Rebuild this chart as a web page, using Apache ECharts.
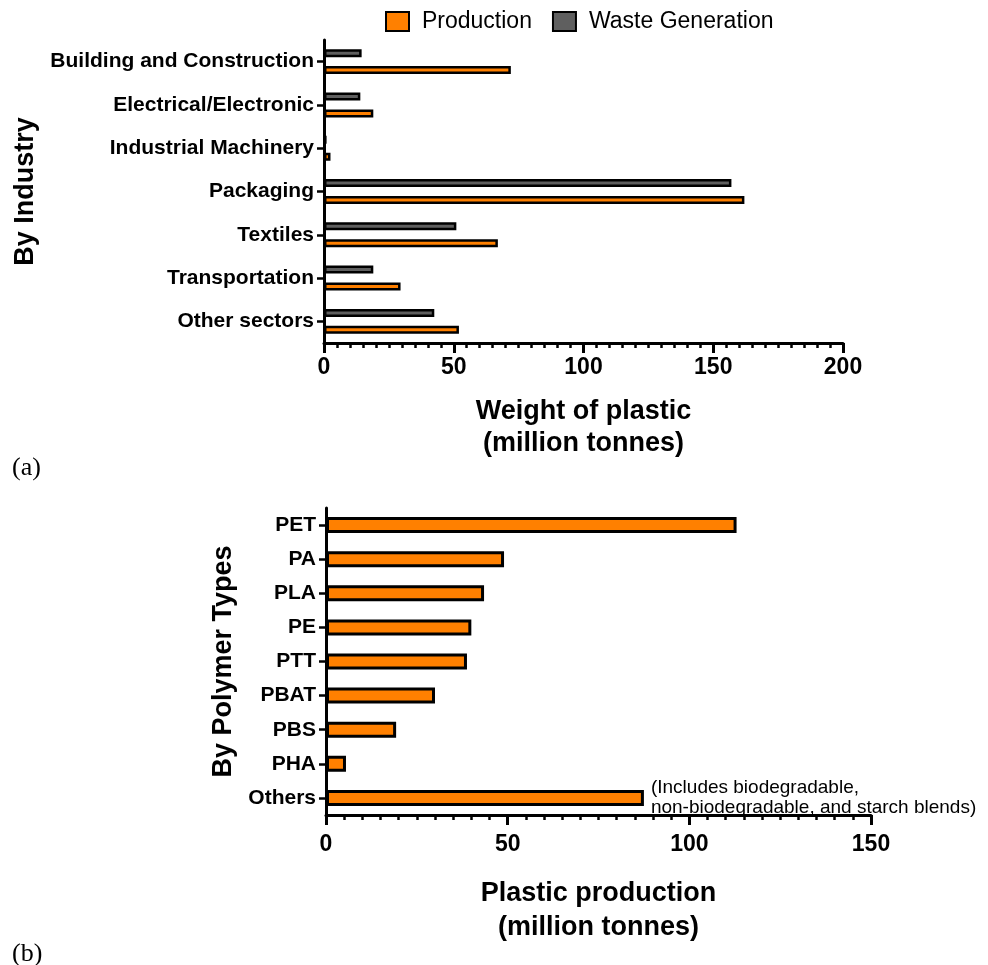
<!DOCTYPE html>
<html>
<head>
<meta charset="utf-8">
<script src="https://cdn.jsdelivr.net/npm/echarts@6/dist/echarts.min.js"></script>
<style>
  html, body { margin: 0; padding: 0; background: #fff; }
  #chart { width: 988px; height: 965px; }
</style>
</head>
<body>
<div id="chart"></div>
<script>
// (a) plastic by industry sector, million tonnes
const industries = [
  'Building and Construction',
  'Electrical/Electronic',
  'Industrial Machinery',
  'Packaging',
  'Textiles',
  'Transportation',
  'Other sectors'
];
const production = [72, 19, 2.5, 162, 67, 29.5, 52];
const wasteGeneration = [14.5, 14, 1, 157, 51, 19, 42.5];

// (b) plastic production by polymer type, million tonnes
const polymers = ['PET', 'PA', 'PLA', 'PE', 'PTT', 'PBAT', 'PBS', 'PHA', 'Others'];
const polymerProduction = [113, 49, 43.5, 40, 38.8, 30, 19.3, 5.5, 87.5];
const othersNote = '(Includes biodegradable,\nnon-biodegradable, and starch blends)';

const ORANGE = '#ff8000';
const GREY = '#5f5f5f';
const FONT = '"Liberation Sans", Arial, Helvetica, sans-serif';
const SERIF = '"Liberation Serif", "Times New Roman", serif';

const chart = echarts.init(document.getElementById('chart'), null, { renderer: 'canvas' });

const valueAxisCommon = {
  type: 'value',
  min: 0,
  interval: 50,
  splitLine: { show: false },
  axisLine: { show: true, lineStyle: { color: '#000', width: 3 } },
  axisTick: { show: true, length: 10, lineStyle: { color: '#000', width: 3 } },
  minorTick: { show: true, splitNumber: 10, length: 5, lineStyle: { color: '#000', width: 2.5 } },
  axisLabel: { color: '#000', fontFamily: FONT, fontWeight: 'bold', fontSize: 23 },
  nameLocation: 'middle',
  nameTextStyle: { color: '#000', fontFamily: FONT, fontWeight: 'bold', fontSize: 27, lineHeight: 32 }
};

const catAxisCommon = {
  type: 'category',
  inverse: true,
  axisLine: { show: true, lineStyle: { color: '#000', width: 3 } },
  axisTick: { show: true, alignWithLabel: true, length: 7, lineStyle: { color: '#000', width: 2.5 } },
  axisLabel: { color: '#000', fontFamily: FONT, fontWeight: 'bold', fontSize: 21, margin: 10 },
  nameLocation: 'middle',
  nameRotate: 90,
  nameTextStyle: { color: '#000', fontFamily: FONT, fontWeight: 'bold', fontSize: 27 }
};

const option = {
  animation: false,
  backgroundColor: '#fff',
  legend: {
    data: ['Production', 'Waste Generation'],
    left: 385,
    top: 10,
    padding: 0,
    itemWidth: 23,
    itemHeight: 19,
    itemGap: 20,
    icon: 'rect',
    textStyle: { color: '#000', fontFamily: FONT, fontSize: 23, padding: [0, 0, 0, 8] }
  },
  grid: [
    { left: 324, top: 40, width: 519, height: 303 },
    { left: 326, top: 508, width: 545, height: 307 }
  ],
  xAxis: [
    Object.assign({}, valueAxisCommon, {
      gridIndex: 0, max: 200,
      name: 'Weight of plastic\n(million tonnes)',
      nameGap: 53,
      axisLabel: Object.assign({}, valueAxisCommon.axisLabel, { margin: 13 })
    }),
    Object.assign({}, valueAxisCommon, {
      gridIndex: 1, max: 150,
      name: 'Plastic production\n(million tonnes)',
      nameGap: 62,
      nameTextStyle: Object.assign({}, valueAxisCommon.nameTextStyle, { lineHeight: 34 }),
      axisLabel: Object.assign({}, valueAxisCommon.axisLabel, { margin: 18 })
    })
  ],
  yAxis: [
    Object.assign({}, catAxisCommon, {
      gridIndex: 0, data: industries,
      name: 'By Industry', nameGap: 282
    }),
    Object.assign({}, catAxisCommon, {
      gridIndex: 1, data: polymers,
      name: 'By Polymer Types', nameGap: 89
    })
  ],
  series: [
    {
      name: 'Waste Generation',
      type: 'bar',
      xAxisIndex: 0, yAxisIndex: 0,
      data: wasteGeneration,
      barWidth: 8,
      barGap: '112%',
      itemStyle: { color: GREY, borderColor: '#000', borderWidth: 2.5 }
    },
    {
      name: 'Production',
      type: 'bar',
      xAxisIndex: 0, yAxisIndex: 0,
      data: production,
      barWidth: 8,
      barGap: '112%',
      itemStyle: { color: ORANGE, borderColor: '#000', borderWidth: 2.5 }
    },
    {
      name: 'Polymer production',
      type: 'bar',
      xAxisIndex: 1, yAxisIndex: 1,
      barWidth: 16,
      data: polymerProduction.map((v, i) => polymers[i] === 'Others'
        ? {
            value: v,
            label: {
              show: true, position: 'right', distance: 7,
              formatter: othersNote, align: 'left',
              color: '#000', fontFamily: FONT, fontSize: 19, lineHeight: 20
            }
          }
        : v),
      itemStyle: { color: ORANGE, borderColor: '#000', borderWidth: 3 }
    }
  ],
  graphic: [
    { type: 'text', left: 12, top: 455, style: { text: '(a)', font: '26px ' + SERIF, fill: '#000' } },
    { type: 'text', left: 12, top: 941, style: { text: '(b)', font: '26px ' + SERIF, fill: '#000' } }
  ]
};

chart.setOption(option);
</script>
</body>
</html>
